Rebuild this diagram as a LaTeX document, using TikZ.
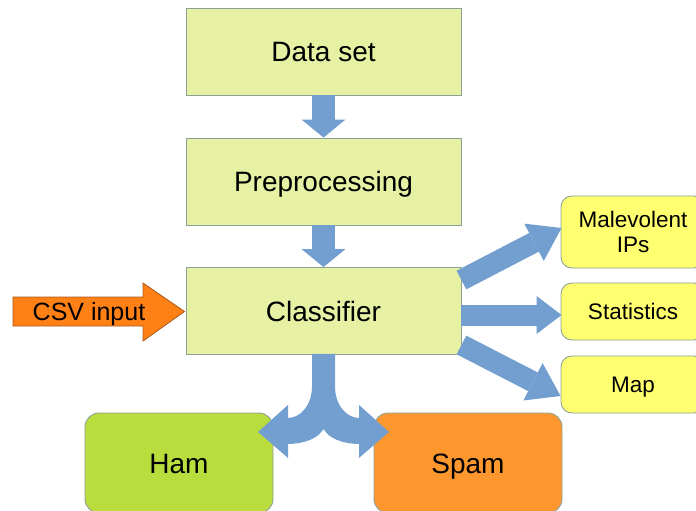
\documentclass[tikz,border=0pt]{standalone}
\usepackage{fontspec}
\setmainfont{Liberation Sans}
\usetikzlibrary{arrows.meta,calc}

\definecolor{stagefill}{RGB}{231,241,163}
\definecolor{stageline}{RGB}{140,160,150}
\definecolor{outfill}{RGB}{255,255,112}
\definecolor{hamfill}{RGB}{185,221,60}
\definecolor{spamfill}{RGB}{255,151,47}
\definecolor{csvfill}{RGB}{255,128,20}
\definecolor{csvline}{RGB}{170,90,30}
\definecolor{flowblue}{RGB}{114,159,207}

\tikzset{
  stage/.style={draw=stageline, line width=0.9pt, fill=stagefill,
    minimum width=275pt, minimum height=87pt, inner sep=0pt,
    font=\fontsize{28}{32}\selectfont, text height=20pt, text depth=0pt},
  outbox/.style={draw=stageline, line width=0.9pt, fill=outfill,
    rounded corners=11pt, minimum width=144pt, inner sep=0pt,
    font=\fontsize{22.5}{25}\selectfont, align=center},
  oneline/.style={text height=16pt, text depth=0pt},
  verdict/.style={draw=stageline, line width=0.9pt, rounded corners=14pt,
    minimum width=188pt, minimum height=100pt, inner sep=0pt,
    font=\fontsize{28}{32}\selectfont, text height=20pt, text depth=0pt},
  downflow/.style={draw=flowblue, line width=23pt,
    -{Triangle[length=18pt, width=44pt, line width=0pt]}},
  sideflow/.style={draw=flowblue, line width=21pt,
    -{Triangle[length=31pt, width=42pt, line width=0pt]}},
}

\begin{document}
\begin{tikzpicture}[x=1pt, y=-1pt]
\useasboundingbox (0,0) rectangle (696,511);
\clip (0,0) rectangle (696,511);

% pipeline stages
\node[stage] (ds)  at (323.5,51.5)  {Data set};
\node[stage] (pre) at (323.5,181.5) {Preprocessing};
\node[stage] (cls) at (323.5,311)   {Classifier};

% outputs on the right
\node[outbox, minimum height=72pt] (mal)  at (633,232)   {Malevolent\\IPs};
\node[outbox, oneline, minimum height=57pt] (stat) at (633,311.5) {Statistics};
\node[outbox, oneline, minimum height=57pt] (map)  at (633,384.5) {Map};

% verdicts
\node[verdict, fill=hamfill]  (ham)  at (179,463) {Ham};
\node[verdict, fill=spamfill] (spam) at (468,463) {Spam};

% downward flow
\draw[downflow] (ds.south) -- (pre.north);
\draw[downflow] (pre.south) -- (cls.north);

% flows to the outputs
\coordinate (o1) at ($(cls.north east)+(0,13)$);
\coordinate (o2) at ($(cls.east)+(0,4)$);
\coordinate (o3) at ($(cls.south east)+(0,-10)$);
\coordinate (t1) at ($(mal.west)+(1,-4)$);
\coordinate (t2) at ($(stat.west)+(1,3.5)$);
\coordinate (t3) at ($(map.west)+(0,11.5)$);
\draw[sideflow] (o1) -- (t1);
\draw[sideflow, -{Triangle[length=25pt, width=38pt, line width=0pt]}] (o2) -- (t2);
\draw[sideflow] (o3) -- (t3);

% split arrow towards ham and spam
\begin{scope}[shift={(cls.south)}]
\fill[flowblue]
  (-11.5,-1) -- (-11.5,31)
  .. controls (-11.5,51) and (-23.5,63) .. (-35.5,63)
  -- (-35.5,50) -- (-65.5,77) -- (-35.5,103) -- (-35.5,89)
  .. controls (-20.5,89) and (-5.5,84) .. (0,74)
  .. controls (5.5,84) and (20.5,89) .. (35.5,89)
  -- (35.5,103) -- (65.5,77) -- (35.5,50) -- (35.5,63)
  .. controls (23.5,63) and (11.5,51) .. (11.5,31)
  -- (11.5,-1) -- cycle;
\end{scope}

% input arrow
\coordinate (csvtip) at ($(cls.west)+(-1,0.5)$);
\fill[csvfill, draw=csvline, line width=0.8pt]
  (13,297) -- (143,297) -- (143,283) -- (csvtip) -- (143,341)
  -- (143,326) -- (13,326) -- cycle;
\node[font=\fontsize{25}{30}\selectfont, text height=18pt, text depth=0pt,
  inner sep=0pt] (csv) at (89,311.5) {CSV input};
\end{tikzpicture}
\end{document}
